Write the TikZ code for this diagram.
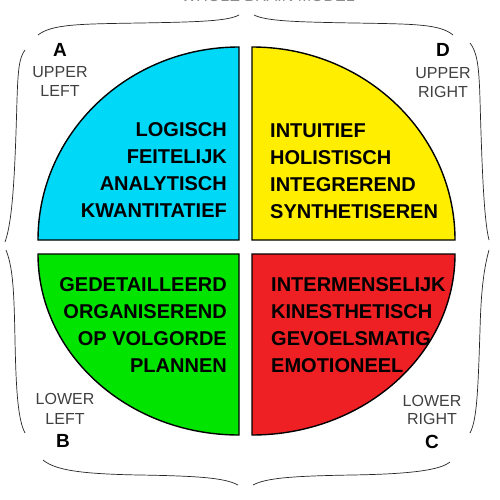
\documentclass[tikz,border=0pt]{standalone}
\usepackage{fontspec}
\setmainfont{Liberation Sans}
\definecolor{quadblue}{RGB}{0,216,248}
\definecolor{quadyellow}{RGB}{255,238,0}
\definecolor{quadgreen}{RGB}{0,228,0}
\definecolor{quadred}{RGB}{238,32,36}
\begin{document}
\begin{tikzpicture}[
    x=1pt, y=-1pt,
    quad/.style={
        draw=black,
        line width=1.4pt,
        line join=miter
    },
    trait/.style={
        font=\bfseries\fontsize{20}{27}\selectfont,
        inner sep=0pt
    },
    letter/.style={font=\bfseries\fontsize{19}{19}\selectfont, inner sep=0pt},
    tag/.style={font=\fontsize{16}{18}\selectfont, text=black!75, inner sep=0pt},
    brace/.style={line width=0.7pt, draw=black!85}
]
\useasboundingbox (0,0) rectangle (500,500);
\fill[white] (0,0) rectangle (500,500);

\node[font=\fontsize{16}{18}\selectfont, text=black!45, anchor=base] (title) at (268,2) {WHOLE BRAIN MODEL};

\draw[quad, fill=quadblue] (239,240) -- (38,240) .. controls (38,133.4) and (128,47) .. (239,47) -- cycle;
\draw[quad, fill=quadyellow] (252,240) -- (252,47) .. controls (364,47) and (455,133.4) .. (455,240) -- cycle;
\draw[quad, fill=quadgreen] (239,254) -- (38,254) .. controls (38,354) and (128,435) .. (239,435) -- cycle;
\draw[quad, fill=quadred] (252,254) -- (252,435) .. controls (364,435) and (455,354) .. (455,254) -- cycle;

\node[trait, align=right, anchor=east] (upleft) at (227,170.5) {LOGISCH\\FEITELIJK\\ANALYTISCH\\KWANTITATIEF};
\node[trait, align=left, anchor=west] (upright) at (270,171) {INTUITIEF\\HOLISTISCH\\INTEGREREND\\SYNTHETISEREN};
\node[trait, align=right, anchor=east] (lowleft) at (227,325) {GEDETAILLEERD\\ORGANISEREND\\OP VOLGORDE\\PLANNEN};
\node[trait, align=left, anchor=west] (lowright) at (271,325) {INTERMENSELIJK\\KINESTHETISCH\\GEVOELSMATIG\\EMOTIONEEL};

\node[letter] (a) at (60,49.5) {A};
\node[tag] (aupper) at (60,72.5) {UPPER};
\node[tag] (aleft) at (60,91) {LEFT};

\node[letter] (d) at (443,50) {D};
\node[tag] (dupper) at (443,73) {UPPER};
\node[tag] (dright) at (443,92) {RIGHT};

\node[tag] (blower) at (65,399) {LOWER};
\node[tag] (bleft) at (65,419) {LEFT};
\node[letter] (b) at (63,441) {B};

\node[tag] (clower) at (432,401) {LOWER};
\node[tag] (cright) at (432,419) {RIGHT};
\node[letter] (c) at (432,442) {C};

\draw[brace] (38,35) .. controls (52,24) and (80,24) .. (140,23) .. controls (200,22) and (228,21) .. (239,15);
\draw[brace] (254,15) .. controls (266,21) and (294,22) .. (354,23) .. controls (414,24) and (440,24) .. (453,35);
\draw[brace] (25,50) .. controls (19,58) and (18,70) .. (17,100) .. controls (15,170) and (13,220) .. (5,242);
\draw[brace] (6,250) .. controls (13,268) and (14,290) .. (15,340) .. controls (16,390) and (18,420) .. (25,433);
\draw[brace] (470,43) .. controls (477,52) and (479,65) .. (480,100) .. controls (482,170) and (484,220) .. (489,240);
\draw[brace] (489,250) .. controls (484,268) and (481,290) .. (480,330) .. controls (478,390) and (477,420) .. (470,433);
\draw[brace] (43,460) .. controls (55,470) and (80,474) .. (140,475) .. controls (200,476) and (225,478) .. (238,485);
\draw[brace] (253,485) .. controls (266,478) and (292,476) .. (352,475) .. controls (412,474) and (440,470) .. (450,462);

\end{tikzpicture}
\end{document}
